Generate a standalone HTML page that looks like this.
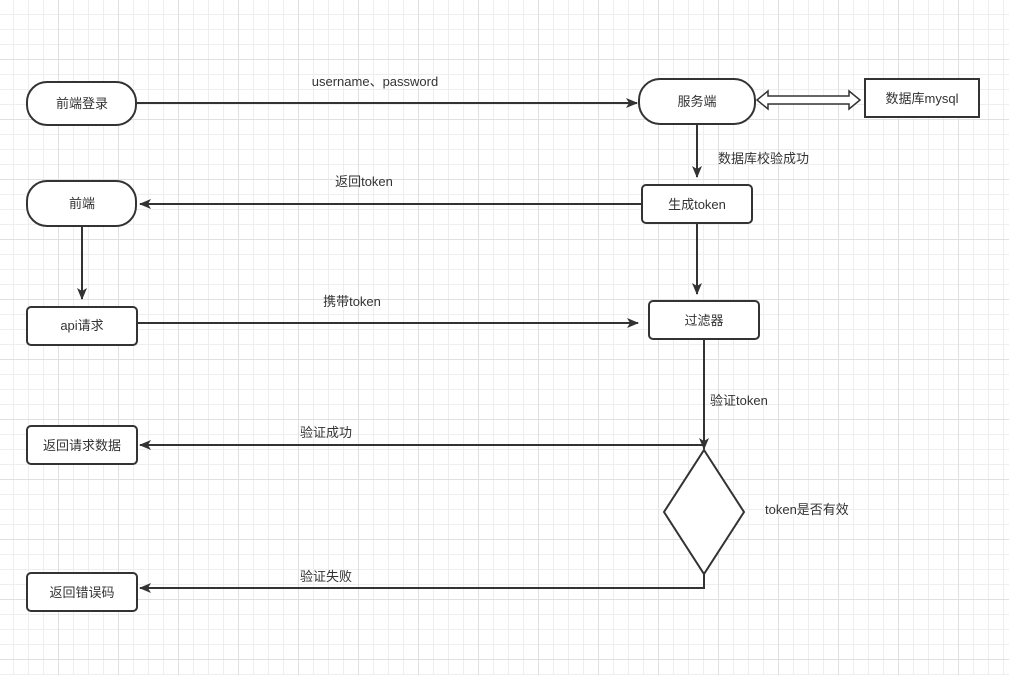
<!DOCTYPE html>
<html><head><meta charset="utf-8"><style>
html,body{margin:0;padding:0;background:#fff;}
svg{display:block;}
text{font-family:"Liberation Sans","Noto Sans CJK SC",sans-serif;font-size:13px;fill:#333;}
</style></head><body>
<svg width="1009" height="675" viewBox="0 0 1009 675" xmlns="http://www.w3.org/2000/svg">
<defs>
<pattern id="minor" x="13" y="14" width="15" height="15" patternUnits="userSpaceOnUse">
<path d="M0 0.5H15M0.5 0V15" stroke="#eeeeee" stroke-width="1" fill="none"/>
</pattern>
<pattern id="major" x="58" y="59" width="60" height="60" patternUnits="userSpaceOnUse">
<path d="M0 0.5H60M0.5 0V60" stroke="#e0e0e0" stroke-width="1" fill="none"/>
</pattern>
<marker id="ar" markerWidth="12" markerHeight="10" refX="11" refY="5" orient="auto" markerUnits="userSpaceOnUse">
<path d="M0 0L12 5L0 10L3 5Z" fill="#333"/>
</marker>
</defs>
<rect width="1009" height="675" fill="#fff"/>
<rect width="1009" height="675" fill="url(#minor)"/>
<rect width="1009" height="675" fill="url(#major)"/>

<g stroke="#333" stroke-width="2" fill="#fff">
<rect x="27" y="82" width="109" height="43" rx="20"/>
<rect x="639" y="79" width="116" height="45" rx="21"/>
<rect x="865" y="79" width="114" height="38"/>
<rect x="642" y="185" width="110" height="38" rx="4"/>
<rect x="27" y="181" width="109" height="45" rx="20"/>
<rect x="27" y="307" width="110" height="38" rx="4"/>
<rect x="649" y="301" width="110" height="38" rx="4"/>
<rect x="27" y="426" width="110" height="38" rx="4"/>
<rect x="27" y="573" width="110" height="38" rx="4"/>
<path d="M704 450L744 512L704 574L664 512Z"/>
</g>

<g stroke="#333" stroke-width="2" fill="none">
<path d="M136 103H637" marker-end="url(#ar)"/>
<path d="M697 124V177" marker-end="url(#ar)"/>
<path d="M642 204H140" marker-end="url(#ar)"/>
<path d="M82 226V299" marker-end="url(#ar)"/>
<path d="M697 223V294" marker-end="url(#ar)"/>
<path d="M137 323H638" marker-end="url(#ar)"/>
<path d="M704 339V449" marker-end="url(#ar)"/>
<path d="M704 445H140" marker-end="url(#ar)"/>
<path d="M704 574V588H140" marker-end="url(#ar)"/>
</g>
<!-- hollow double arrow -->
<path d="M757 100L768 91V96H849V91L860 100L849 109V104H768V109Z" fill="#fff" stroke="#333" stroke-width="1.5"/>

<g text-anchor="middle">
<text x="82" y="108">前端登录</text>
<text x="697" y="106">服务端</text>
<text x="922" y="103">数据库mysql</text>
<text x="697" y="209">生成token</text>
<text x="82" y="208">前端</text>
<text x="82" y="330">api请求</text>
<text x="704" y="325">过滤器</text>
<text x="82" y="450">返回请求数据</text>
<text x="82" y="597">返回错误码</text>
<text x="375" y="86">username、password</text>
<text x="364" y="186">返回token</text>
<text x="352" y="306">携带token</text>
<text x="326" y="437">验证成功</text>
<text x="326" y="581">验证失败</text>
</g>
<text x="718" y="163">数据库校验成功</text>
<text x="710" y="405">验证token</text>
<text x="765" y="514">token是否有效</text>
</svg>
</body></html>
